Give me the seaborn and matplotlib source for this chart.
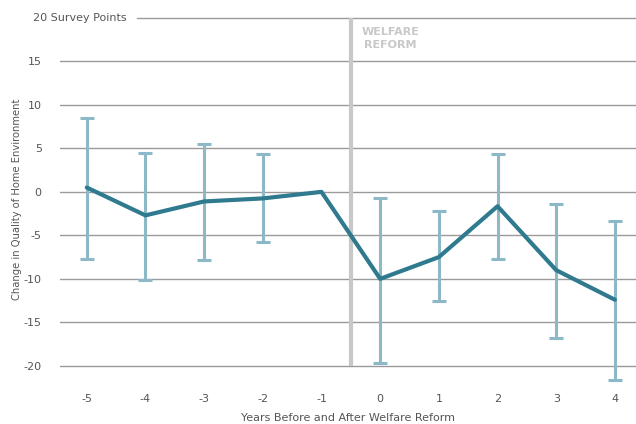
import numpy as np
import pandas as pd
import matplotlib
matplotlib.use("Agg")
import matplotlib.pyplot as plt
import seaborn as sns

# Data
years = [-5, -4, -3, -2, -1, 0, 1, 2, 3, 4]
change = [0.5, -2.7, -1.1, -0.75, 0.0, -10.0, -7.5, -1.65, -9.0, -12.4]
upper = [8.5, 4.5, 5.5, 4.3, None, -0.7, -2.2, 4.4, -1.4, -3.3]
lower = [-7.7, -10.1, -7.8, -5.8, None, -19.7, -12.6, -7.7, -16.75, -21.6]
y_ticks = [-20, -15, -10, -5, 0, 5, 10, 15]
reform_year = -0.5

LINE_COLOR = "#2f7a8e"
ERR_COLOR = "#8db8c8"
GRID_COLOR = "#9a9a9a"
TEXT_COLOR = "#555555"
REFORM_COLOR = "#c8c8c8"

sns.set_style("white")
plt.rcParams["font.family"] = ["DejaVu Sans"]

df = pd.DataFrame({"year": years, "change": change, "upper": upper, "lower": lower})

fig = plt.figure(figsize=(6.36, 4.24), dpi=100)
ax = fig.add_axes([0.094, 0.09, 0.906, 0.878])

# horizontal grid lines
for t in y_ticks:
    ax.axhline(t, color=GRID_COLOR, linewidth=1, zorder=0)
# top line (20) starts after its label
ax.axhline(20, xmin=(137 - 60) / 576, color=GRID_COLOR, linewidth=1, zorder=0)

# welfare reform marker
ax.plot([reform_year, reform_year], [-20, 20], color=REFORM_COLOR, linewidth=3, zorder=1,
        solid_capstyle="butt")
ax.text(reform_year + 0.68, 18.9, "WELFARE\nREFORM", color=REFORM_COLOR, fontsize=8,
        fontweight="bold", ha="center", va="top", linespacing=1.3)

# error bars
err = df.dropna(subset=["upper", "lower"])
ax.errorbar(err["year"], err["change"],
            yerr=[err["change"] - err["lower"], err["upper"] - err["change"]],
            fmt="none", ecolor=ERR_COLOR, elinewidth=2.2, capsize=4.7, capthick=2.2, zorder=2)

# main line
sns.lineplot(data=df, x="year", y="change", color=LINE_COLOR, linewidth=3, ax=ax, zorder=3)

ax.set_xlim(-5.46, 4.36)
ax.set_ylim(-22.3, 20.5)
ax.set_xticks(years)
ax.set_xticklabels([str(y) for y in years])
ax.set_yticks(y_ticks)
ax.set_yticklabels([str(t) for t in y_ticks])
ax.tick_params(axis="both", length=0, labelsize=8, colors=TEXT_COLOR)
ax.tick_params(axis="y", pad=13)
ax.tick_params(axis="x", pad=6)
ax.text((127 - 60) / 576, 20, "20 Survey Points", transform=ax.get_yaxis_transform(),
        ha="right", va="center", fontsize=8, color=TEXT_COLOR)

for s in ax.spines.values():
    s.set_visible(False)

ax.set_xlabel("Years Before and After Welfare Reform", fontsize=8, color=TEXT_COLOR, labelpad=6)
ax.set_ylabel("Change in Quality of Home Environment", fontsize=7.2, color=TEXT_COLOR, labelpad=1)

fig.savefig("out.png", dpi=100)
